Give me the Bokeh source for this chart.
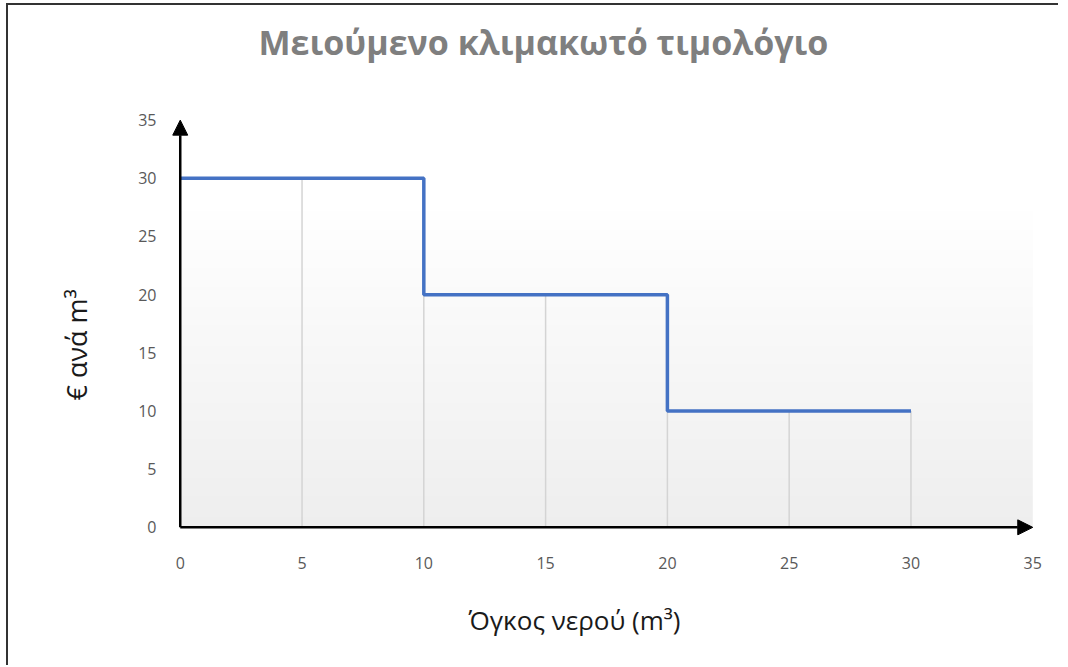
import numpy as np
from bokeh.plotting import figure
from bokeh.models import Arrow, NormalHead, Title, FixedTicker, Range1d
from bokeh.embed import file_html
from bokeh.resources import INLINE

# ---- data ----
title_text = "Μειούμενο κλιμακωτό τιμολόγιο"
x_label = "Όγκος νερού (m³)"
y_label = "€ ανά m³"
volume = [0, 5, 10, 10, 15, 20, 20, 25, 30]
price = [30, 30, 30, 20, 20, 20, 10, 10, 10]
drop_x = [5, 10, 15, 20, 25, 30]
drop_y = [30, 20, 20, 10, 10, 10]
x_ticks = [0, 5, 10, 15, 20, 25, 30, 35]
y_ticks = [0, 5, 10, 15, 20, 25, 30, 35]

FONT = "Open Sans"

p = figure(width=1052, height=662, output_backend="svg", toolbar_location=None,
           x_range=Range1d(-0.4, 35.4), y_range=Range1d(-0.7, 35.4),
           min_border_left=162, min_border_right=18,
           min_border_top=110, min_border_bottom=132)
p.outline_line_color = None
p.grid.grid_line_color = None
p.background_fill_color = "white"
p.border_fill_color = "white"
p.styles = {"border-left": "2px solid #333333", "border-top": "2px solid #333333",
            "margin-left": "6px", "margin-top": "3px"}

# gradient background of the plot area
N = 200
img = np.empty((N, 1), dtype=np.uint32)
view = img.view(dtype=np.uint8).reshape((N, 1, 4))
for i in range(N):
    yv = 35.0 * i / (N - 1)
    t = max(0.0, (28.0 - yv) / 28.0)
    g = int(round(255 - 17 * t))
    view[i, 0, 0] = g
    view[i, 0, 1] = g
    view[i, 0, 2] = g
    view[i, 0, 3] = 255
p.image_rgba(image=[img], x=0, y=0, dw=35, dh=35)

# drop lines
p.segment(x0=drop_x, y0=[0] * len(drop_x), x1=drop_x, y1=drop_y,
          line_color="#d4d4d4", line_width=1.5)

# step line
p.line(volume, price, line_color="#4472c4", line_width=3.5)

# axes
for ax in (p.xaxis[0], p.yaxis[0]):
    ax.axis_line_color = None
    ax.major_tick_line_color = None
    ax.minor_tick_line_color = None
    ax.major_label_text_font = FONT
    ax.major_label_text_font_size = "16px"
    ax.major_label_text_color = "#595959"
p.xaxis[0].ticker = FixedTicker(ticks=x_ticks)
p.yaxis[0].ticker = FixedTicker(ticks=y_ticks)
p.xaxis[0].major_label_standoff = 15
p.yaxis[0].major_label_standoff = 8

p.add_layout(Arrow(x_start=0, y_start=0, x_end=0, y_end=35, line_width=2.5, line_color="black",
                   end=NormalHead(size=15, fill_color="black", line_color="black")))
p.add_layout(Arrow(x_start=0, y_start=0, x_end=35, y_end=0, line_width=2.5, line_color="black",
                   end=NormalHead(size=15, fill_color="black", line_color="black")))

# texts (trailing blank line lifts the title away from the plot area)
p.title.text = title_text + "\n "
p.title.align = "left"
p.title.offset = 88
p.title.standoff = 10
p.title.text_font = FONT
p.title.text_font_size = "34px"
p.title.text_font_style = "bold"
p.title.text_color = "#7f7f7f"

p.add_layout(Title(text=x_label, align="left", offset=298, standoff=57,
                   text_font=FONT, text_font_size="26px", text_font_style="normal",
                   text_color="#1a1a1a"), "below")
p.add_layout(Title(text=y_label, align="left", offset=135, standoff=82,
                   text_font=FONT, text_font_size="27px", text_font_style="normal",
                   text_color="#1a1a1a"), "left")

open("out.html", "w").write(file_html(p, INLINE))
